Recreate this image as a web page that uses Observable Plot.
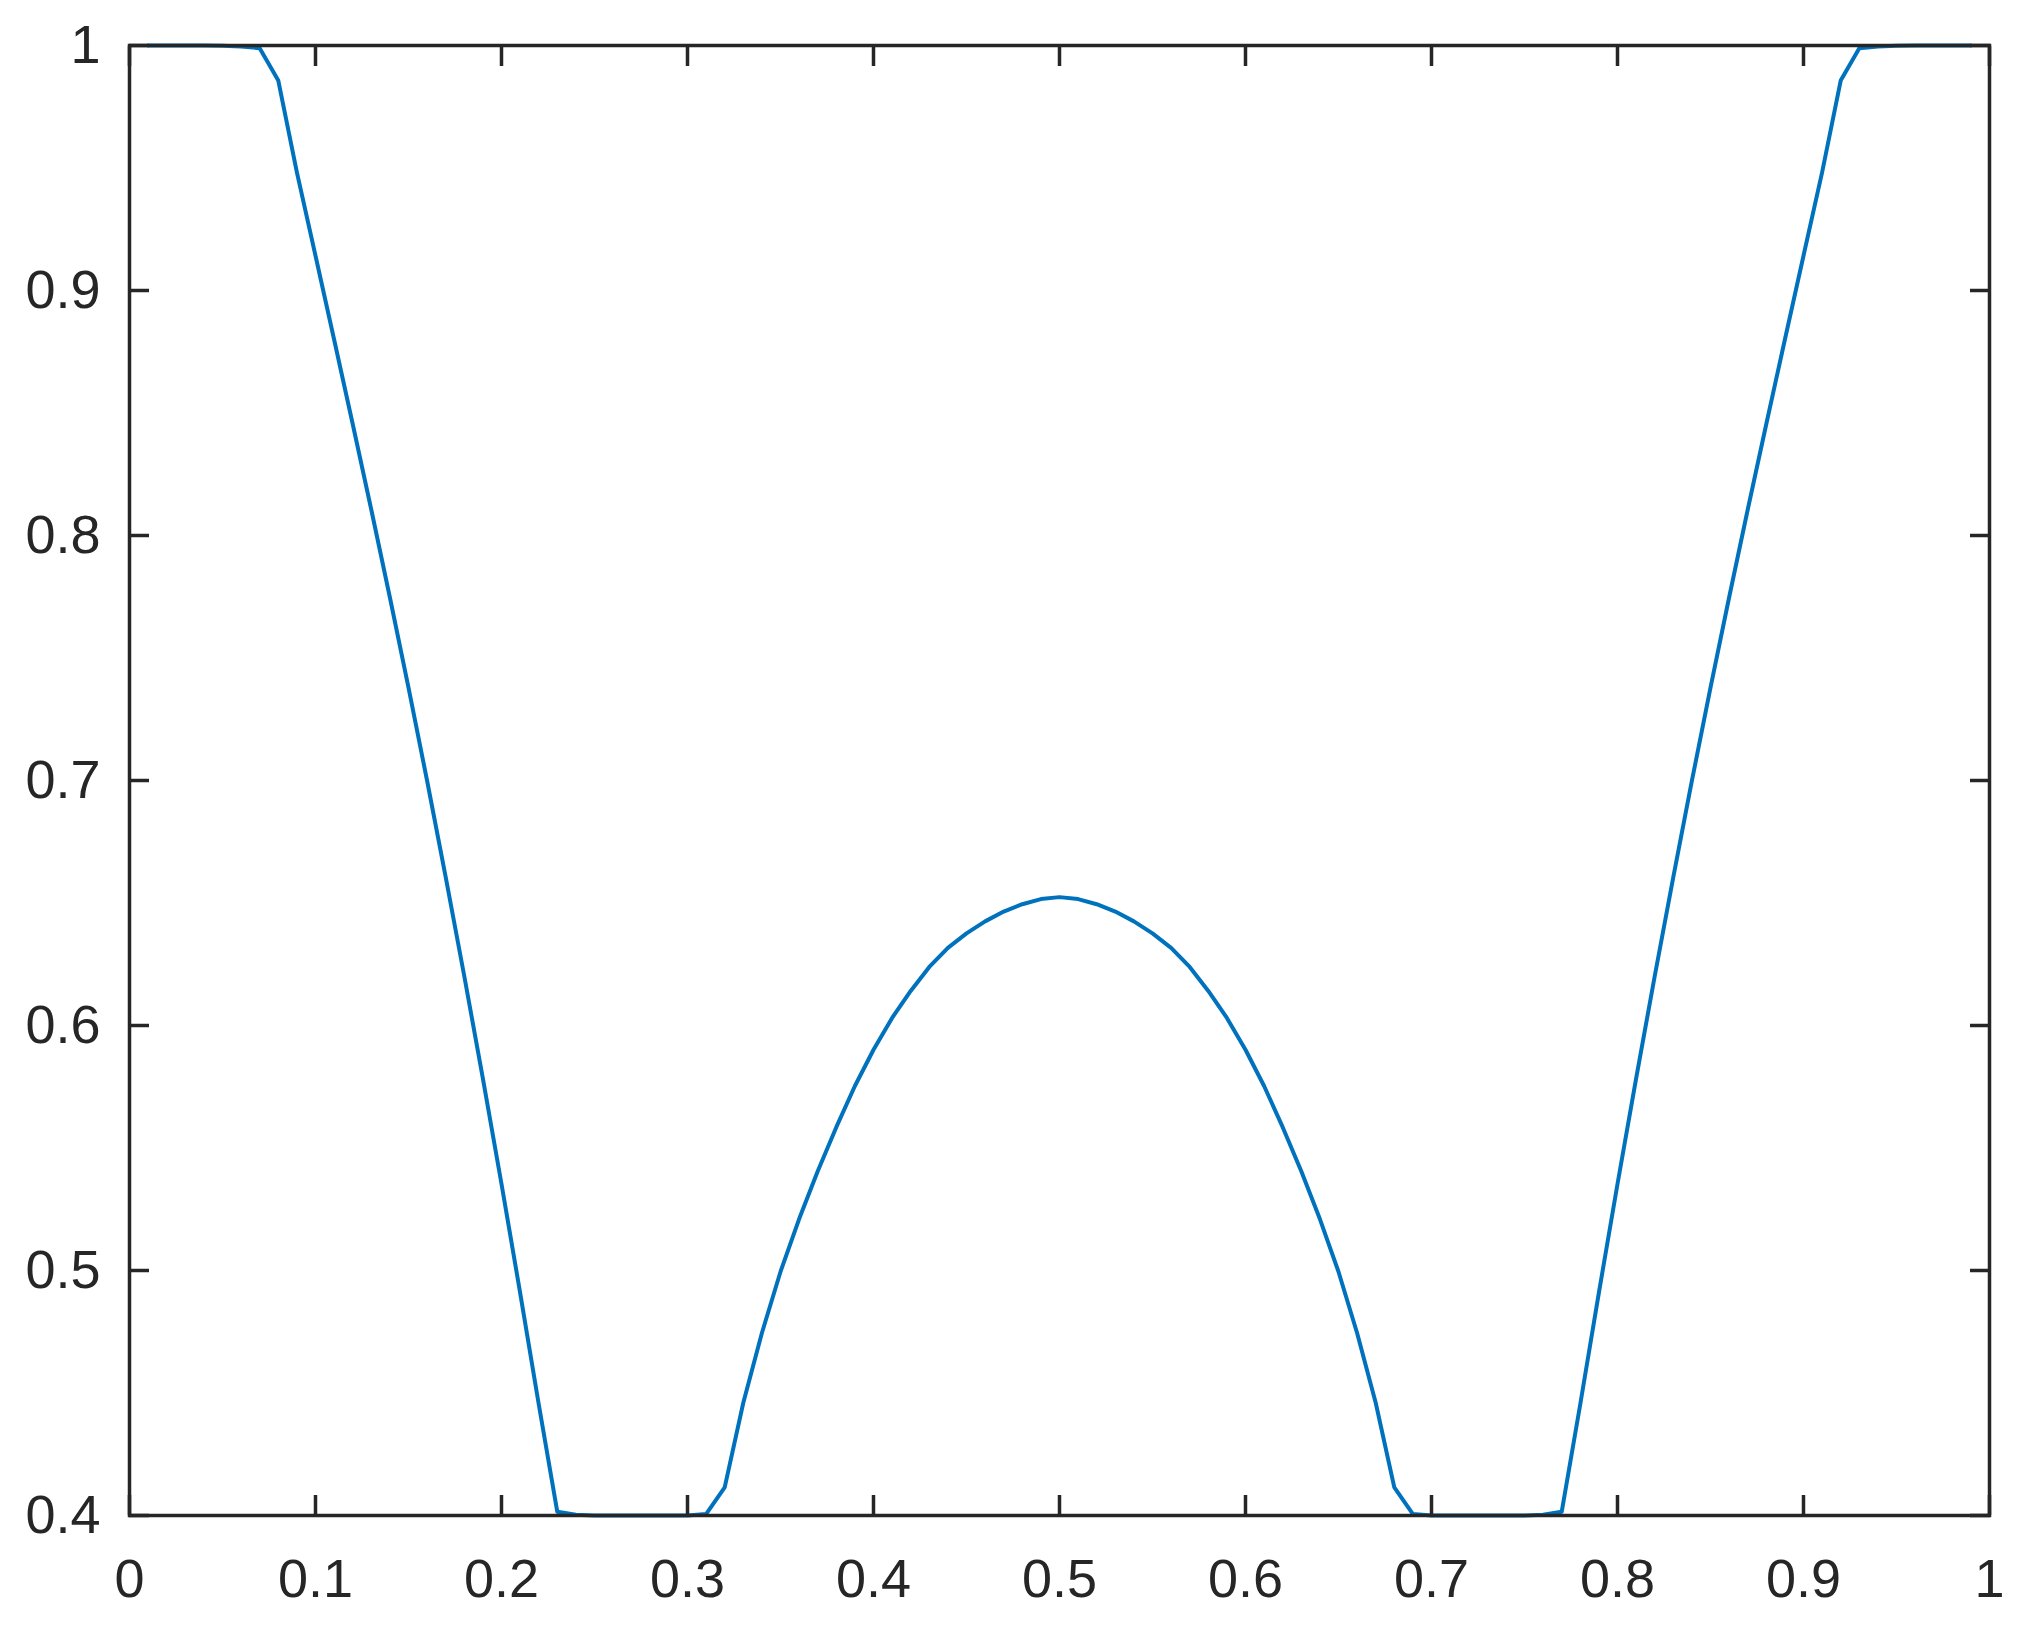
<!DOCTYPE html>
<html>
<head>
<meta charset="utf-8">
<script src="https://cdn.jsdelivr.net/npm/d3@7"></script>
<script src="https://cdn.jsdelivr.net/npm/@observablehq/plot@0.6"></script>
<style>
html, body { margin: 0; padding: 0; background: #ffffff; }
#chart svg { display: block; }
</style>
</head>
<body>
<div id="chart"></div>
<script>
// x positions of the samples
const xValues = [
  0.01, 0.02, 0.03, 0.04, 0.05, 0.06, 0.07, 0.08, 0.09, 0.10,
  0.11, 0.12, 0.13, 0.14, 0.15, 0.16, 0.17, 0.18, 0.19, 0.20,
  0.21, 0.22, 0.23, 0.24, 0.25, 0.26, 0.27, 0.28, 0.29, 0.30,
  0.31, 0.32, 0.33, 0.34, 0.35, 0.36, 0.37, 0.38, 0.39, 0.40,
  0.41, 0.42, 0.43, 0.44, 0.45, 0.46, 0.47, 0.48, 0.49, 0.50,
  0.51, 0.52, 0.53, 0.54, 0.55, 0.56, 0.57, 0.58, 0.59, 0.60,
  0.61, 0.62, 0.63, 0.64, 0.65, 0.66, 0.67, 0.68, 0.69, 0.70,
  0.71, 0.72, 0.73, 0.74, 0.75, 0.76, 0.77, 0.78, 0.79, 0.80,
  0.81, 0.82, 0.83, 0.84, 0.85, 0.86, 0.87, 0.88, 0.89, 0.90,
  0.91, 0.92, 0.93, 0.94, 0.95, 0.96, 0.97, 0.98, 0.99
];
// series values (one row per 0.1 of x)
const yValues = [
  1.0000, 1.0000, 1.0000, 1.0000, 0.9999, 0.9996, 0.9989, 0.9857, 0.9482, 0.9142,
  0.8800, 0.8455, 0.8105, 0.7747, 0.7379, 0.6999, 0.6606, 0.6201, 0.5783, 0.5353,
  0.4910, 0.4455, 0.4015, 0.4003, 0.4000, 0.4000, 0.4000, 0.4000, 0.4000, 0.4000,
  0.4006, 0.4115, 0.4460, 0.4745, 0.4995, 0.5210, 0.5405, 0.5585, 0.5753, 0.5901,
  0.6031, 0.6141, 0.6239, 0.6317, 0.6376, 0.6425, 0.6465, 0.6495, 0.6516, 0.6524,
  0.6516, 0.6495, 0.6465, 0.6425, 0.6376, 0.6317, 0.6239, 0.6141, 0.6031, 0.5901,
  0.5753, 0.5585, 0.5405, 0.5210, 0.4995, 0.4745, 0.4460, 0.4115, 0.4006, 0.4000,
  0.4000, 0.4000, 0.4000, 0.4000, 0.4000, 0.4003, 0.4015, 0.4455, 0.4910, 0.5353,
  0.5783, 0.6201, 0.6606, 0.6999, 0.7379, 0.7747, 0.8105, 0.8455, 0.8800, 0.9142,
  0.9482, 0.9857, 0.9989, 0.9996, 0.9999, 1.0000, 1.0000, 1.0000, 1.0000
];
const xTicks = [0, 0.1, 0.2, 0.3, 0.4, 0.5, 0.6, 0.7, 0.8, 0.9, 1];
const xTickLabels = ["0", "0.1", "0.2", "0.3", "0.4", "0.5", "0.6", "0.7", "0.8", "0.9", "1"];
const yTicks = [0.4, 0.5, 0.6, 0.7, 0.8, 0.9, 1];
const yTickLabels = ["0.4", "0.5", "0.6", "0.7", "0.8", "0.9", "1"];

const data = xValues.map((x, i) => ({x, y: yValues[i]}));

const axisColor = "#262626";
const lineColor = "#0072BD";
const xLabel = d => xTickLabels[xTicks.indexOf(d)];
const yLabel = d => yTickLabels[yTicks.indexOf(d)];
const none = () => "";

const chart = Plot.plot({
  width: 2019,
  height: 1629,
  marginLeft: 129,
  marginRight: 30,
  marginTop: 45,
  marginBottom: 114,
  style: {
    fontFamily: "'Liberation Sans', Arial, Helvetica, sans-serif",
    fontSize: "54px",
    color: axisColor,
    background: "#ffffff"
  },
  x: {domain: [0, 1], label: null},
  y: {domain: [0.4, 1], label: null},
  marks: [
    Plot.line(data, {x: "x", y: "y", stroke: lineColor, strokeWidth: 4}),
    // inward ticks on all four sides
    Plot.axisX(xTicks, {anchor: "bottom", tickSize: -20, strokeWidth: 3.5, tickFormat: none, label: null}),
    Plot.axisX(xTicks, {anchor: "top", tickSize: -20, strokeWidth: 3.5, tickFormat: none, label: null}),
    Plot.axisY(yTicks, {anchor: "left", tickSize: -20, strokeWidth: 3.5, tickFormat: none, label: null}),
    Plot.axisY(yTicks, {anchor: "right", tickSize: -20, strokeWidth: 3.5, tickFormat: none, label: null}),
    // tick labels
    Plot.axisX(xTicks, {anchor: "bottom", tickSize: 0, tickPadding: 43, tickFormat: xLabel, label: null, fill: axisColor}),
    Plot.axisY(yTicks, {anchor: "left", tickSize: 0, tickPadding: 29, tickFormat: yLabel, label: null, fill: axisColor}),
    Plot.frame({stroke: axisColor, strokeWidth: 3.5})
  ]
});
document.getElementById("chart").appendChild(chart);
</script>
</body>
</html>
